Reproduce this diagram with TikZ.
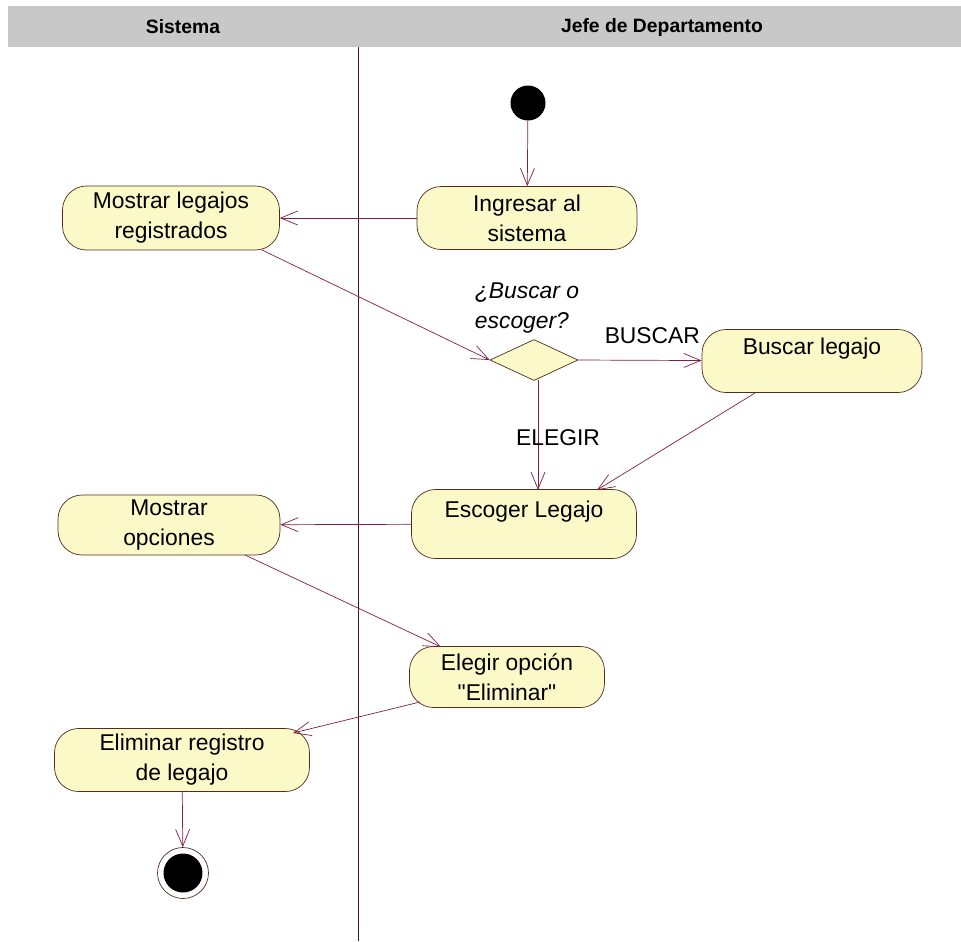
\documentclass[tikz,border=0pt]{standalone}
\usepackage{fontspec}
\setmainfont{Liberation Sans}[Ligatures=TeXOff]
\usetikzlibrary{arrows.meta,shapes.geometric}
\definecolor{flujo}{RGB}{128,32,64}
\definecolor{borde}{RGB}{80,45,30}
\definecolor{crema}{RGB}{252,249,200}
\definecolor{cabecera}{RGB}{200,200,200}
\tikzset{
	actividad/.style={
			draw=borde, fill=crema, rounded corners=0.48cm, align=center,
			inner sep=2pt, font=\fontsize{13}{17}\selectfont
		},
	flecha/.style={
			draw=flujo, -{Straight Barb[length=3.4mm,width=2.8mm]}
		},
	etiqueta/.style={text=black, font=\fontsize{13}{15}\selectfont}
}
\begin{document}
\begin{tikzpicture}[x=0.02cm,y=-0.02cm]
			\useasboundingbox (0,0) rectangle (961,941);

			% Draw the swimlanes
			\fill[cabecera] (8,6) rectangle (961,47);
			\node[font=\bfseries\fontsize{11}{13}\selectfont] (carril1) at (183,27) {Sistema};
			\node[font=\bfseries\fontsize{11}{13}\selectfont] (carril2) at (662,27) {Jefe de Departamento};
			\draw[flujo!60!black] (358,47) -- (358,941);

			% Initial and final states
			\node[fill=black,circle,minimum size=0.7cm,inner sep=0pt] (inicio) at (528,103) {};
			\node[draw=borde,circle,minimum size=1.02cm,inner sep=0pt] (fin) at (183,873) {};
			\node[fill=black,circle,minimum size=0.78cm,inner sep=0pt] at (183,873) {};

			% Activities
			\node[actividad,minimum width=4.4cm,minimum height=1.26cm] (ingresar) at (527,218) {Ingresar al\\sistema};
			\node[actividad,minimum width=4.34cm,minimum height=1.28cm] (mostrarleg) at (171,218) {Mostrar legajos\\registrados};
			\node[draw=borde,fill=crema,diamond,aspect=2.1,minimum width=1.76cm,minimum height=0.82cm,inner sep=0pt] (decision) at (534,360) {};
			\node[font=\itshape\fontsize{13}{17}\selectfont,align=left] (pregunta) at (527,308) {¿Buscar o\\escoger?};
			\node[actividad,minimum width=4.4cm,minimum height=1.26cm] (buscar) at (812,361) {Buscar legajo\\~};
			\node[actividad,minimum width=4.5cm,minimum height=1.38cm] (escoger) at (524,524) {Escoger Legajo\\~};
			\node[actividad,minimum width=4.44cm,minimum height=1.2cm] (mostraropc) at (169,525) {Mostrar\\opciones};
			\node[actividad,minimum width=3.9cm,minimum height=1.22cm] (elegir) at (507,677) {Elegir opción\\"Eliminar"};
			\node[actividad,minimum width=5.1cm,minimum height=1.26cm] (eliminar) at (182,760) {Eliminar registro\\de legajo};

			% Transitions
			\draw[flecha] (inicio) -- (ingresar);
			\draw[flecha] (ingresar) -- (mostrarleg);
			\draw[flecha] (262,250) -- (decision.west);
			\draw[flecha] (decision.east) -- node[above=6pt,pos=0.6,etiqueta] {BUSCAR} (buscar);
			\draw[flecha] (538,380) -- node[right=-16pt,pos=0.52,etiqueta] {ELEGIR} (538,490);
			\draw[flecha] (755,393) -- (597,490);
			\draw[flecha] (escoger) -- (mostraropc);
			\draw[flecha] (245,555) -- (441,647);
			\draw[flecha] (420,702) -- (293,733);
			\draw[flecha] (eliminar) -- (fin);
		\end{tikzpicture}
\end{document}
